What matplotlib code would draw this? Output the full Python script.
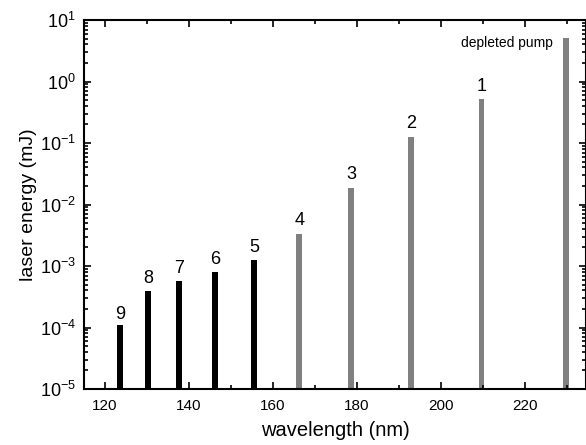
import numpy as np
import matplotlib
matplotlib.use('Agg')
import matplotlib.pyplot as plt
from matplotlib.ticker import LogLocator, MultipleLocator, FixedLocator

plt.rcParams['font.family'] = ['Liberation Sans', 'DejaVu Sans']
plt.rcParams['mathtext.fontset'] = 'custom'
plt.rcParams['mathtext.rm'] = 'Liberation Sans'
plt.rcParams['mathtext.it'] = 'Liberation Sans'

# orders 9..5 (black), 4..1 (gray), depleted pump (gray)
wl_black = [123.6, 130.3, 137.7, 146.2, 155.5]
en_black = [1.0e-4, 3.8e-4, 5.6e-4, 7.8e-4, 1.22e-3]
lab_black = ['9', '8', '7', '6', '5']

wl_gray = [166.3, 178.6, 193.0, 209.7]
en_gray = [3.3e-3, 1.87e-2, 0.127, 0.51]
lab_gray = ['4', '3', '2', '1']

wl_pump = 229.9
en_pump = 5.15

fig = plt.figure(figsize=(5.86, 4.45), dpi=100)
ax = fig.add_axes([84/586, 1-389/445, 1-84/586, (389-20)/445])

w = 1.4
ax.bar(wl_black, en_black, width=w, bottom=1e-5, color='black')
ax.bar(wl_gray, en_gray, width=w, bottom=1e-5, color='#808080')
ax.bar([wl_pump], [en_pump], width=w, bottom=1e-5, color='#808080')

for x, y, s in zip(wl_black + wl_gray, en_black + en_gray, lab_black + lab_gray):
	ax.text(x, y*1.2, s, ha='center', va='bottom', fontsize=13)
ax.text(wl_pump - 3.2, 4.3, 'depleted pump', ha='right', va='center', fontsize=10)

ax.set_yscale('log')
ax.set_ylim(1e-5, 10)
ax.set_xlim(115, 234.6)

ax.xaxis.set_major_locator(MultipleLocator(20))
ax.xaxis.set_minor_locator(MultipleLocator(10))
ax.yaxis.set_major_locator(FixedLocator([10.0**k for k in range(-5, 2)]))
ax.set_yticklabels([r'10$^{%d}$' % k for k in range(-5, 2)])
ax.yaxis.set_minor_locator(LogLocator(base=10, subs=np.arange(2, 10)))
ax.yaxis.set_minor_formatter(plt.NullFormatter())

ax.tick_params(which='both', direction='in', top=True, right=True, width=1.2)
ax.tick_params(axis='x', labelsize=11, pad=7)
ax.tick_params(axis='y', labelsize=13, pad=6)
ax.tick_params(which='major', length=5)
ax.tick_params(which='minor', length=3)
for sp in ax.spines.values():
	sp.set_linewidth(1.5)

ax.set_xlabel('wavelength (nm)', fontsize=14.5, labelpad=6)
ax.set_ylabel('laser energy (mJ)', fontsize=14, labelpad=2)

fig.savefig('out.png', dpi=100)
